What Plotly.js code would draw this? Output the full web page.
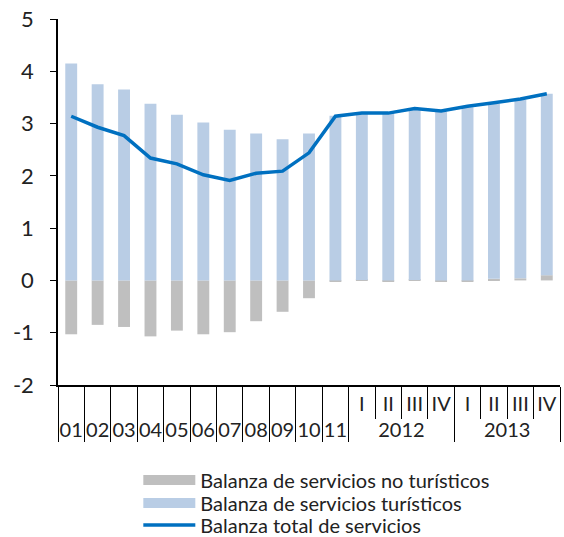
<!DOCTYPE html>
<html><head><meta charset="utf-8">
<script src="https://cdn.plot.ly/plotly-3.0.1.min.js"></script>
<style>html,body{margin:0;padding:0;background:#fff}#chart{width:564px;height:537px}</style>
</head><body><div id="chart"></div>
<script>
const outerLabels = ["01","02","03","04","05","06","07","08","09","10","11","2012","2012","2012","2012","2013","2013","2013","2013"];
const innerLabels = ["","","","","","","","","","","","I","II","III","IV","I","II","III","IV"];
const noTuristicos = [-1.03,-0.85,-0.89,-1.07,-0.96,-1.03,-0.99,-0.78,-0.60,-0.34,-0.02,0.01,-0.02,0.01,-0.02,-0.02,0.03,0.04,0.10];
const turisticos = [4.15,3.75,3.65,3.38,3.17,3.02,2.88,2.81,2.70,2.81,3.15,3.19,3.20,3.25,3.23,3.31,3.35,3.41,3.47];
const total = [3.14,2.93,2.77,2.34,2.23,2.02,1.91,2.05,2.09,2.44,3.14,3.20,3.20,3.29,3.24,3.33,3.40,3.47,3.57];
const yTicks = [-2,-1,0,1,2,3,4,5];
const yTickText = ["-2","-1","0","1","2","3","4","5"];

const names = ["Balanza de servicios no turísticos","Balanza de servicios turísticos","Balanza total de servicios"];
const colors = ["#BFBFBF","#B9CDE5","#0070C0"];

const x = [outerLabels, innerLabels];
const fam = "Lato, 'Open Sans', sans-serif";

const data = [
  {type:"bar", name:names[0], x:x, y:noTuristicos, marker:{color:colors[0]}, showlegend:false, hoverinfo:"y"},
  {type:"bar", name:names[1], x:x, y:turisticos, marker:{color:colors[1]}, showlegend:false, hoverinfo:"y"},
  {type:"scatter", mode:"lines", name:names[2], x:x, y:total, line:{color:colors[2], width:3.5}, showlegend:false},
  // legend-only swatches (wide bars as in the original legend)
  {type:"scatter", mode:"lines", name:names[0], x:[null], y:[null], line:{color:colors[0], width:14}, legend:"legend"},
  {type:"scatter", mode:"lines", name:names[1], x:[null], y:[null], line:{color:colors[1], width:12}, legend:"legend2"},
  {type:"scatter", mode:"lines", name:names[2], x:[null], y:[null], line:{color:colors[2], width:3.5}, legend:"legend3"}
];

function leg(yc) {
  return {orientation:"v", x:0.16, xanchor:"left", yref:"container", y:yc, yanchor:"middle",
    font:{size:20, family:fam, color:"#222"}, itemwidth:52, bgcolor:"rgba(0,0,0,0)"};
}

const layout = {
  width:564, height:537,
  margin:{l:58, r:4, t:19, b:152},
  barmode:"relative", bargap:0.55,
  paper_bgcolor:"#fff", plot_bgcolor:"#fff",
  font:{family:fam, color:"#222", size:18},
  showlegend:true,
  legend:leg(1 - 480/537),
  legend2:leg(1 - 503/537),
  legend3:leg(1 - 525/537),
  xaxis:{type:"multicategory", automargin:false, showline:true, linecolor:"#000", linewidth:1.5, ticks:"outside", tickson:"boundaries", ticklen:32, tickcolor:"#000", tickwidth:1.2, tickangle:0, showdividers:true, dividercolor:"#000", dividerwidth:1.2, showgrid:false, tickfont:{size:20, color:"#222"}, zeroline:false},
  yaxis:{automargin:false, range:[-2,5], tickvals:yTicks, ticktext:yTickText, showline:true, linecolor:"#000", linewidth:1.5, ticks:"outside", ticklen:6, tickcolor:"#000", ticklabelstandoff:12, showgrid:false, zeroline:false, tickfont:{size:22, color:"#222"}}
};
Plotly.newPlot("chart", data, layout, {displayModeBar:false});
</script></body></html>
